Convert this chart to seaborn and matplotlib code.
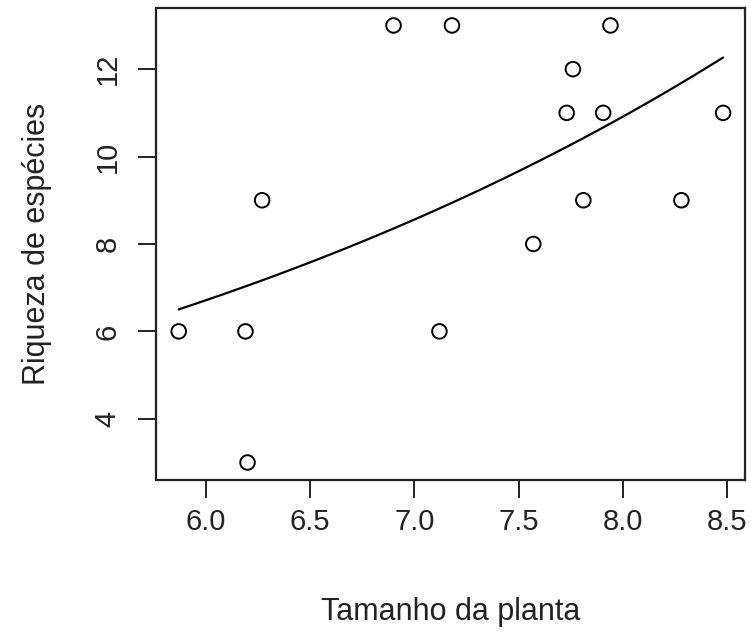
import numpy as np
import pandas as pd
import matplotlib
matplotlib.use("Agg")
import matplotlib.pyplot as plt
import seaborn as sns

# data
tamanho = [5.87, 6.19, 6.20, 6.27, 6.90, 7.18, 7.12, 7.57, 7.73, 7.76, 7.81, 7.905, 7.94, 8.28, 8.48]
riqueza = [6, 6, 3, 9, 13, 13, 6, 8, 11, 12, 9, 11, 13, 9, 11]
x_ticks = [6.0, 6.5, 7.0, 7.5, 8.0, 8.5]
y_ticks = [4, 6, 8, 10, 12]

df = pd.DataFrame({"tamanho": tamanho, "riqueza": riqueza})

# Poisson GLM (log link) fitted by IRLS
X = np.column_stack([np.ones(len(df)), df["tamanho"].values])
y = df["riqueza"].values.astype(float)
beta = np.array([np.log(y.mean()), 0.0])
for _ in range(50):
    mu = np.exp(X @ beta)
    z = X @ beta + (y - mu) / mu
    beta = np.linalg.solve(X.T @ (mu[:, None] * X), X.T @ (mu * z))

# fitted curve over the observed range
grid = np.linspace(min(tamanho), max(tamanho), 100)
curve = pd.DataFrame({"tamanho": grid, "fit": np.exp(beta[0] + beta[1] * grid)})

sns.set_style("ticks")
plt.rcParams["font.family"] = ["Liberation Sans", "DejaVu Sans"]

fig = plt.figure(figsize=(7.51, 6.37), dpi=100)
ax = fig.add_axes([0.2077, 0.2465, 0.7843, 0.741])

sns.scatterplot(data=df, x="tamanho", y="riqueza", ax=ax, marker="o", s=110,
                facecolors="none", edgecolor="black", linewidth=1.4)
sns.lineplot(data=curve, x="tamanho", y="fit", ax=ax, color="black", linewidth=1.6)

ax.set_xlim(5.761, 8.585)
ax.set_ylim(2.6, 13.4)
ax.set_xticks(x_ticks)
ax.set_xticklabels([f"{t:.1f}" for t in x_ticks])
ax.set_yticks(y_ticks)
ax.set_yticklabels([str(t) for t in y_ticks], rotation=90, va="center")
ax.tick_params(axis="both", length=13, width=1.4, labelsize=21, colors="#222222")
ax.tick_params(axis="x", pad=7)
ax.tick_params(axis="y", pad=12)
for s in ax.spines.values():
    s.set_visible(True)
    s.set_linewidth(1.6)
    s.set_color("#222222")

ax.set_xlabel("Tamanho da planta", fontsize=22, labelpad=44, color="#222222")
ax.set_ylabel("Riqueza de espécies", fontsize=22, labelpad=30, color="#222222")

fig.savefig("out.png", dpi=100)
